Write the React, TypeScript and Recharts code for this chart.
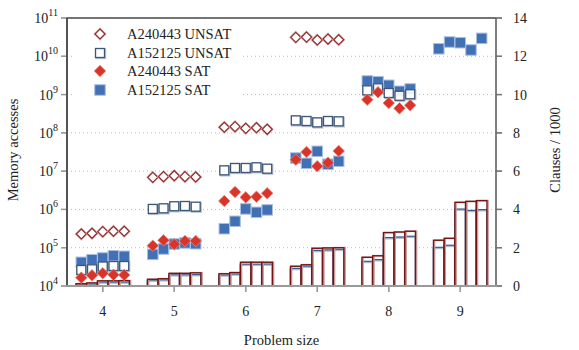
import React from 'react';
import { ComposedChart, Scatter, Bar, XAxis, YAxis, CartesianGrid, ReferenceLine } from 'recharts';

const FONT = '"Liberation Serif", "Times New Roman", serif';

const categories = [4, 5, 6, 7, 8, 9];
const offsets = [-0.3, -0.15, 0, 0.15, 0.3];
const leftTicks = [1e4, 1e5, 1e6, 1e7, 1e8, 1e9, 1e10, 1e11];
const rightTicks = [0, 2, 4, 6, 8, 10, 12, 14];

// Memory accesses per problem size (rows: 4..9)
const unsatA240443: number[][] = [
  [2.28e5, 2.38e5, 2.62e5, 2.69e5, 2.69e5],
  [6.9e6, 7.16e6, 7.6e6, 7.16e6, 7.03e6],
  [1.4e8, 1.45e8, 1.31e8, 1.36e8, 1.24e8],
  [3.13e10, 3.18e10, 2.66e10, 2.82e10, 2.7e10],
  [],
  [],
];
const unsatA152125: number[][] = [
  [2.62e4, 2.73e4, 3.23e4, 3.33e4, 3.33e4],
  [1.03e6, 1.07e6, 1.21e6, 1.23e6, 1.18e6],
  [1.05e7, 1.21e7, 1.21e7, 1.26e7, 1.16e7],
  [2.12e8, 2.04e8, 1.88e8, 2.04e8, 2.0e8],
  [1.29e9, 1.46e9, 1.1e9, 9.3e8, 1.02e9],
  [],
];
const satA240443: number[][] = [
  [1.65e4, 1.9e4, 2.15e4, 1.97e4, 1.94e4],
  [1.13e5, 1.56e5, 1.23e5, 1.5e5, 1.5e5],
  [1.66e6, 2.85e6, 2.07e6, 2.15e6, 2.64e6],
  [1.99e7, 3.16e7, 1.34e7, 1.66e7, 3.36e7],
  [7.35e8, 1.15e9, 6.0e8, 4.37e8, 5.24e8],
  [],
];
const satA152125: number[][] = [
  [4.16e4, 4.86e4, 5.39e4, 6.18e4, 5.97e4],
  [6.7e4, 9.25e4, 1.25e5, 1.33e5, 1.27e5],
  [3.13e5, 4.9e5, 1.03e6, 8.4e5, 9.7e5],
  [2.2e7, 1.6e7, 3.3e7, 1.51e7, 1.81e7],
  [2.26e9, 2.17e9, 1.75e9, 1.22e9, 1.4e9],
  [1.57e10, 2.36e10, 2.26e10, 1.46e10, 2.94e10],
];

// Clauses / 1000 per problem size
const clausesA240443: number[][] = [
  [0.12, 0.16, 0.27, 0.27, 0.28],
  [0.35, 0.38, 0.66, 0.66, 0.69],
  [0.64, 0.7, 1.24, 1.24, 1.24],
  [1.03, 1.11, 1.97, 1.99, 2.0],
  [1.5, 1.58, 2.79, 2.82, 2.86],
  [2.39, 2.49, 4.37, 4.42, 4.46],
];
const clausesA152125: number[][] = [
  [0.08, 0.11, 0.21, 0.21, 0.21],
  [0.31, 0.33, 0.59, 0.59, 0.6],
  [0.58, 0.63, 1.14, 1.14, 1.15],
  [0.92, 1.04, 1.86, 1.89, 1.92],
  [1.29, 1.38, 2.53, 2.56, 2.6],
  [2.02, 2.13, 4.02, 3.95, 3.99],
];

const toPoints = (vals: number[][]) =>
  vals.flatMap((row, ci) => row.map((v, j) => ({ x: categories[ci] + offsets[j], y: v })));

const barTable = categories.flatMap((c, ci) =>
  offsets.map((o, j) => ({ x: c + o, red: clausesA240443[ci][j], blue: clausesA152125[ci][j] }))
);

const C_DIAMOND = '#8e2b2b';
const C_RED = '#d8342a';
const C_BLUE = '#4170b4';
const C_HOLLOW = '#3d5576';

const HollowDiamond = (p: any) => {
  const { cx, cy } = p;
  const r = 5;
  return (
    <g>
      <path d={`M${cx},${cy - r}L${cx + r},${cy}L${cx},${cy + r}L${cx - r},${cy}Z`} fill="#fff" stroke="#d9b3b3" strokeWidth={2.4} />
      <path d={`M${cx},${cy - r}L${cx + r},${cy}L${cx},${cy + r}L${cx - r},${cy}Z`} fill="#fff" stroke={C_DIAMOND} strokeWidth={1.2} />
    </g>
  );
};
const RedDiamond = (p: any) => {
  const { cx, cy } = p;
  const r = 5.8;
  return <path d={`M${cx},${cy - r}L${cx + r},${cy}L${cx},${cy + r}L${cx - r},${cy}Z`} fill={C_RED} stroke="#ea8a80" strokeWidth={0.8} />;
};
const BlueSquare = (p: any) => {
  const { cx, cy } = p;
  const s = 10.5;
  return <rect x={cx - s / 2} y={cy - s / 2} width={s} height={s} fill={C_BLUE} stroke="#a9bfe2" strokeWidth={1} />;
};
const HollowSquare = (p: any) => {
  const { cx, cy } = p;
  const s = 9;
  return (
    <g>
      <rect x={cx - s / 2 + 0.8} y={cy - s / 2 + 0.8} width={s} height={s} fill="none" stroke="#b9c4d4" strokeWidth={1.8} />
      <rect x={cx - s / 2} y={cy - s / 2} width={s} height={s} fill="#fff" fillOpacity={0.9} stroke={C_HOLLOW} strokeWidth={1.3} />
    </g>
  );
};

const RedBar = (p: any) => {
  const { x, y, width, height } = p;
  if (!height) return <g />;
  return (
    <g>
      <rect x={x + 1} y={y} width={width} height={height} fill="none" stroke="#c59a9a" strokeWidth={1.8} />
      <rect x={x} y={y} width={width} height={height} fill="none" stroke="#721515" strokeWidth={1.3} />
    </g>
  );
};
const BlueBar = (p: any) => {
  const { x, y, width, height } = p;
  if (!height) return <g />;
  return (
    <g>
      <rect x={x} y={y + 1} width={width} height={height - 1} fill="#fff" stroke="#aebbd3" strokeWidth={1.8} />
      <rect x={x} y={y} width={width} height={height} fill="none" stroke="#3a5a8c" strokeWidth={1.2} />
    </g>
  );
};

const LeftTick = (p: any) => {
  const exp = Math.round(Math.log10(p.payload.value));
  return (
    <g>
      <line x1={p.x + 2} x2={p.x + 8} y1={p.y} y2={p.y} stroke="#9a9a9a" strokeWidth={1.3} />
      <text x={p.x - 1} y={p.y + 5} textAnchor="end" fontFamily={FONT} fontSize={14} fill="#222">
        <tspan>10</tspan>
        <tspan dy={-7} fontSize={10}>{exp}</tspan>
      </text>
    </g>
  );
};
const RightTick = (p: any) => (
  <g>
    <line x1={p.x - 8} x2={p.x - 2} y1={p.y} y2={p.y} stroke="#777" strokeWidth={1.3} />
    <text x={p.x + 9} y={p.y + 5} textAnchor="start" fontFamily={FONT} fontSize={14} fill="#222">
      {p.payload.value}
    </text>
  </g>
);
const XTick = (p: any) => (
  <g>
    <line x1={p.x} x2={p.x} y1={p.y - 8} y2={p.y - 2} stroke="#9a9a9a" strokeWidth={1.3} />
    <text x={p.x} y={p.y + 22} textAnchor="middle" fontFamily={FONT} fontSize={14} fill="#222">
      {p.payload.value}
    </text>
  </g>
);

const legendItems = [
  { label: 'A240443 UNSAT', kind: 'hd' },
  { label: 'A152125 UNSAT', kind: 'hs' },
  { label: 'A240443 SAT', kind: 'rd' },
  { label: 'A152125 SAT', kind: 'bs' },
];
const legendRowY = [34, 52.5, 71, 89.5];

const LegendIcon = ({ kind }: { kind: string }) => {
  const props = { cx: 8, cy: 8 };
  return (
    <svg width={16} height={16} style={{ position: 'absolute', left: 92, top: 0 }}>
      {kind === 'hd' && <HollowDiamond {...props} />}
      {kind === 'hs' && <HollowSquare {...props} />}
      {kind === 'rd' && <RedDiamond {...props} />}
      {kind === 'bs' && <BlueSquare {...props} />}
    </svg>
  );
};

export default function App() {
  return (
    <div style={{ position: 'absolute', left: 0, top: 0, width: 579, height: 350, background: '#fff' }}>
      <ComposedChart
        width={579}
        height={350}
        data={barTable}
        margin={{ top: 18, right: 0, bottom: 0, left: 0 }}
      >
        <CartesianGrid yAxisId="left" xAxisId="main" vertical={false} stroke="#bdbdbd" strokeDasharray="1 3" />
        <XAxis
          xAxisId="main"
          type="number"
          dataKey="x"
          domain={[3.5, 9.5]}
          allowDataOverflow
          ticks={categories}
          height={64}
          tick={<XTick />}
          stroke="#9a9a9a"
          axisLine={{ stroke: '#9a9a9a', strokeWidth: 1.8 }}
          tickLine={{ stroke: '#9a9a9a', strokeWidth: 1.3 }}
        />
        <XAxis xAxisId="b" orientation="top" height={0} type="number" dataKey="x" domain={[3.5, 9.5]} allowDataOverflow hide />
        <YAxis
          yAxisId="left"
          orientation="left"
          scale="log"
          domain={[1e4, 1e11]}
          allowDataOverflow
          ticks={leftTicks}
          width={67}
          tick={<LeftTick />}
          stroke="#444"
          axisLine={{ stroke: '#444', strokeWidth: 1.3 }}
          tickLine={{ stroke: '#9a9a9a', strokeWidth: 1.3 }}
        />
        <YAxis
          yAxisId="right"
          orientation="right"
          domain={[0, 14]}
          allowDataOverflow
          ticks={rightTicks}
          width={83}
          tick={<RightTick />}
          stroke="#777"
          axisLine={{ stroke: '#777', strokeWidth: 1.3 }}
          tickLine={{ stroke: '#777', strokeWidth: 1.3 }}
        />
        <Bar xAxisId="b" yAxisId="right" dataKey="blue" barSize={10.6} shape={<BlueBar />} isAnimationActive={false} />
        <Bar xAxisId="main" yAxisId="right" dataKey="red" barSize={10.6} shape={<RedBar />} isAnimationActive={false} />
        <Scatter xAxisId="main" yAxisId="left" data={toPoints(satA152125)} dataKey="y" shape={<BlueSquare />} isAnimationActive={false} />
        <Scatter xAxisId="main" yAxisId="left" data={toPoints(unsatA152125)} dataKey="y" shape={<HollowSquare />} isAnimationActive={false} />
        <Scatter xAxisId="main" yAxisId="left" data={toPoints(satA240443)} dataKey="y" shape={<RedDiamond />} isAnimationActive={false} />
        <Scatter xAxisId="main" yAxisId="left" data={toPoints(unsatA240443)} dataKey="y" shape={<HollowDiamond />} isAnimationActive={false} />
        <ReferenceLine yAxisId="left" xAxisId="main" y={1e11} stroke="#666" strokeWidth={1.3} ifOverflow="visible" />
      </ComposedChart>
      <svg width={579} height={350} style={{ position: 'absolute', left: 0, top: 0, pointerEvents: 'none' }}>
        <rect x={67} y={18} width={429} height={268} fill="none" stroke="#666" strokeWidth={1.2} />
        <line x1={67} x2={67} y1={18} y2={286} stroke="#444" strokeWidth={1.3} />
        <line x1={66} x2={497} y1={286} y2={286} stroke="#9a9a9a" strokeWidth={1.8} />
        <text x={18} y={150} transform="rotate(-90 18 150)" textAnchor="middle" fontFamily={FONT} fontSize={14.5} fill="#222">
          Memory accesses
        </text>
        <text x={560} y={150} transform="rotate(-90 560 150)" textAnchor="middle" fontFamily={FONT} fontSize={14.5} fill="#222">
          Clauses / 1000
        </text>
        <text x={281.5} y={345} textAnchor="middle" fontFamily={FONT} fontSize={14.5} fill="#222">
          Problem size
        </text>
      </svg>
      <div style={{ position: 'absolute', left: 75, top: 22, width: 168, height: 77, background: '#fff' }} />
      {legendItems.map((it, i) => (
        <div key={it.label} style={{ position: 'absolute', left: 0, top: legendRowY[i] - 8, height: 16, width: 260 }}>
          <LegendIcon kind={it.kind} />
          <div style={{ position: 'absolute', left: 127, top: 0, lineHeight: '16px', fontFamily: FONT, fontSize: 14.5, color: '#222', whiteSpace: 'nowrap' }}>
            {it.label}
          </div>
        </div>
      ))}
    </div>
  );
}
